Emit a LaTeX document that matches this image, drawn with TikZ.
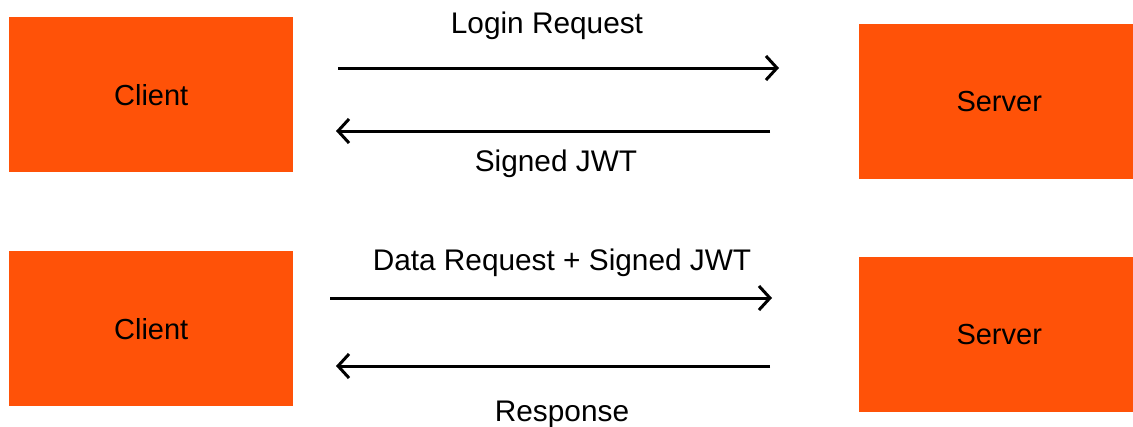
\documentclass[tikz,border=0pt]{standalone}
\usepackage{fontspec}
\setmainfont{Liberation Sans}
\usetikzlibrary{arrows.meta}
\definecolor{boxorange}{HTML}{FF5208}
\tikzset{
  box/.style={fill=boxorange, draw=none, minimum width=284pt, minimum height=155pt, anchor=north west, inner sep=0pt, font=\fontsize{29}{34}\selectfont},
  msg/.style={line width=3pt, -{Straight Barb[length=11pt,width=24pt,line width=3pt]}},
  lbl/.style={anchor=base, font=\fontsize{29.8}{34}\selectfont, inner sep=0pt}
}
\begin{document}
\begin{tikzpicture}[x=1pt,y=-1pt]
\useasboundingbox (0,0) rectangle (1133,426);
\node[box] (c1) at (9,17) {Client};
\node[box, minimum width=280pt] (s1) at (859,24) {Server};
\node[box] (c2) at (9,251) {Client};
\node[box, minimum width=280pt] (s2) at (859,257) {Server};

\coordinate (a1s) at (338,68);  \coordinate (a1e) at (779,68);
\coordinate (a2s) at (770,131); \coordinate (a2e) at (336,131);
\coordinate (a3s) at (330,298); \coordinate (a3e) at (772,298);
\coordinate (a4s) at (770,366); \coordinate (a4e) at (336,366);

\draw[msg] (a1s) -- (a1e);
\draw[msg] (a2s) -- (a2e);
\draw[msg] (a3s) -- (a3e);
\draw[msg] (a4s) -- (a4e);

\node[lbl] (l1) at (547,33) {Login Request};
\node[lbl] (l2) at (556,171) {Signed JWT};
\node[lbl] (l3) at (562,270) {Data Request + Signed JWT};
\node[lbl] (l4) at (562,421) {Response};
\end{tikzpicture}
\end{document}
